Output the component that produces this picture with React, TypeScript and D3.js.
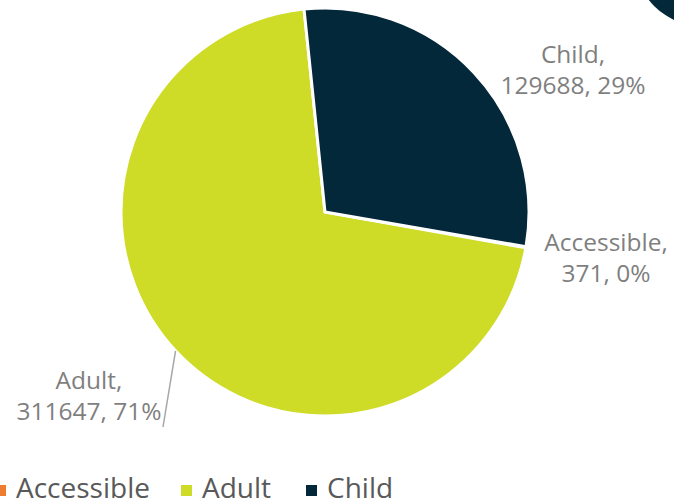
import React from "react";
import * as d3 from "d3";

const categories = ["Accessible", "Adult", "Child"];
const values = [371, 311647, 129688];
const percentLabels = ["0%", "71%", "29%"];
const colors = ["#ED7D31", "#CEDB27", "#03283A"];

const W = 674;
const H = 502;
const cx = 325;
const cy = 212;
const R = 204;
const startDeg = 99.8;

// label layout (center x, first baseline y) for each category
const labelPos: Record<string, [number, number]> = {
  Accessible: [606, 251],
  Adult: [89, 389],
  Child: [573, 63],
};

export default function App() {
  const pie = d3
    .pie<number>()
    .sort(null)
    .value((d) => d)
    .startAngle((startDeg * Math.PI) / 180)
    .endAngle((startDeg * Math.PI) / 180 + 2 * Math.PI);
  const arcs = pie(values);
  const arc = d3.arc<d3.PieArcDatum<number>>().innerRadius(0).outerRadius(R);
  const edgeArc = d3.arc<d3.PieArcDatum<number>>().innerRadius(R).outerRadius(R);

  const font = "'Open Sans', 'Noto Sans', sans-serif";

  const adultIdx = 1;
  const [ax, ay] = edgeArc.centroid(arcs[adultIdx]);

  const legendX = [16, 202, 327];

  return (
    <svg
      width={W}
      height={H}
      style={{ position: "absolute", left: 0, top: 0, display: "block" }}
    >
      <rect width={W} height={H} fill="#fff" />
      <circle cx={705} cy={-45} r={72} fill={colors[2]} />
      <g transform={`translate(${cx},${cy})`}>
        {arcs.map((a, i) => (
          <path
            key={categories[i]}
            d={arc(a) || ""}
            fill={colors[i]}
            stroke="#fff"
            strokeWidth={3}
            strokeLinejoin="round"
          />
        ))}
      </g>
      <line
        x1={cx + ax}
        y1={cy + ay}
        x2={163}
        y2={427}
        stroke="#A6A6A6"
        strokeWidth={1.5}
      />
      {categories.map((c, i) => {
        const [lx, ly] = labelPos[c];
        return (
          <text
            key={c}
            x={lx}
            y={ly}
            textAnchor="middle"
            fontFamily={font}
            fontSize={24.5}
            fill="#7F7F7F"
          >
            <tspan x={lx} y={ly}>{`${c},`}</tspan>
            <tspan x={lx} y={ly + 31}>{`${values[i]}, ${percentLabels[i]}`}</tspan>
          </text>
        );
      })}
      {categories.map((c, i) => (
        <g key={"lg" + c}>
          <rect x={legendX[i] - 21} y={485} width={11} height={11} fill={colors[i]} />
          <text x={legendX[i]} y={498} fontFamily={font} fontSize={28} fill="#595959">
            {c}
          </text>
        </g>
      ))}
    </svg>
  );
}
